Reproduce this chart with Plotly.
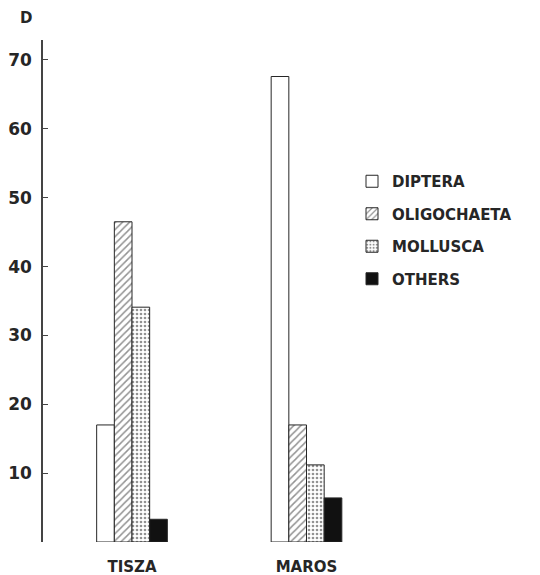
import plotly.graph_objects as go

categories = ["TISZA", "MAROS"]
series_names = ["DIPTERA", "OLIGOCHAETA", "MOLLUSCA", "OTHERS"]
diptera = [17.0, 67.6]
oligochaeta = [46.5, 17.0]
mollusca = [34.1, 11.2]
others = [3.3, 6.4]
y_ticks = [10, 20, 30, 40, 50, 60, 70]
y_title = "D"

INK = "#262626"
FONT = "DejaVu Sans"

styles = [
    dict(color="white", pattern=dict(shape="")),
    dict(color="white", pattern=dict(shape="/", fgcolor=INK, bgcolor="white", size=5, solidity=0.3)),
    dict(color="white", pattern=dict(shape=".", fgcolor=INK, bgcolor="white", size=4, solidity=0.35)),
    dict(color="#111111", pattern=dict(shape="")),
]

fig = go.Figure()
for i, (name, vals) in enumerate(zip(series_names, [diptera, oligochaeta, mollusca, others])):
    st = styles[i]
    fig.add_trace(go.Bar(
        x=[0, 1], y=vals, name=name, legendgroup=name,
        marker=dict(color=st["color"], pattern=st["pattern"],
                    line=dict(color=INK, width=1)),
    ))

# page body has an 8px margin, so the figure is 8px smaller and offsets are shifted
OFF = 8
FW, FH = 540 - OFF, 575 - OFF
L = 43 - OFF
T = 40 - OFF
B = 33
W = 330
H = FH - T - B
fig.update_layout(
    width=FW, height=FH,
    margin=dict(l=L, r=FW - L - W, t=T, b=B, autoexpand=False),
    paper_bgcolor="white", plot_bgcolor="white",
    barmode="group", bargap=0.595, bargroupgap=0,
    font=dict(family=FONT, color=INK, size=15, weight=700),
    showlegend=True,
    legend=dict(x=(352 - 43) / W, xanchor="left", y=1 - (165 - 40) / H, yanchor="top",
                yref="paper", font=dict(size=15, family=FONT, weight=700, color=INK),
                tracegroupgap=10, bgcolor="rgba(0,0,0,0)", itemwidth=30),
    xaxis=dict(tickmode="array", tickvals=[0, 1], ticktext=categories,
               range=[-0.51, -0.51 + W / 174.5], showline=False, showgrid=False,
               zeroline=False, ticks="", ticklabelstandoff=14, automargin=False,
               tickfont=dict(size=15, family=FONT, weight=700)),
    yaxis=dict(range=[0, 72.9], tickvals=y_ticks, showgrid=False, zeroline=False,
               showline=True, linecolor="#444", linewidth=1.5,
               ticks="inside", ticklen=5, tickcolor="#444", tickwidth=1.2,
               ticklabelstandoff=6, automargin=False,
               tickfont=dict(size=17, family=FONT, weight=700)),
    annotations=[dict(text=y_title, xref="paper", yref="paper",
                      x=(26 - 43) / W, y=1 + (40 - 18) / H, xanchor="center", yanchor="middle",
                      showarrow=False, font=dict(size=15, family=FONT, weight=700))],
)

fig.write_html("out.html")
